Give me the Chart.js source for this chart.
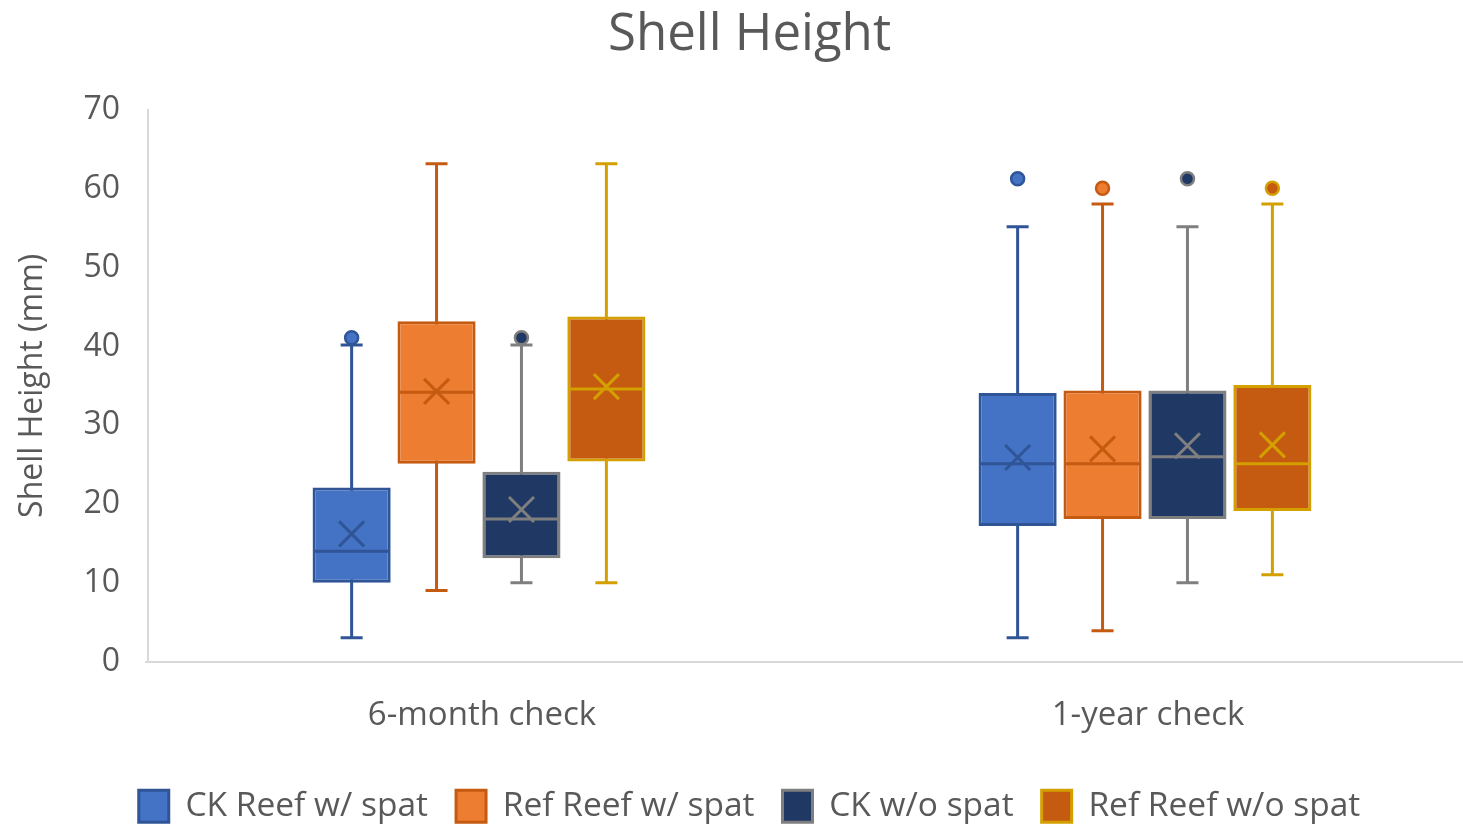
<!DOCTYPE html>
<html>
<head>
<meta charset="utf-8">
<script src="https://cdn.jsdelivr.net/npm/chart.js@4.4.0/dist/chart.umd.min.js"></script>
<style>
html, body { margin: 0; padding: 0; background: #fff; }
#wrap { width: 1463px; height: 826px; }
</style>
</head>
<body>
<div id="wrap"><canvas id="myChart"></canvas></div>
<script>
// categories and series
const categories = ["6-month check", "1-year check"];
const seriesNames = ["CK Reef w/ spat", "Ref Reef w/ spat", "CK w/o spat", "Ref Reef w/o spat"];

// box plot stats, one row per series, [6-month, 1-year]
const whiskerMin = [[3, 3], [9, 3.9], [10, 10], [10, 11]];
const quartile1 = [[10, 17.2], [25.1, 18.1], [13.1, 18.1], [25.4, 19.1]];
const medians = [[14, 25.1], [34.2, 25.1], [18.1, 26], [34.6, 25.1]];
const quartile3 = [[22.1, 34.1], [43.2, 34.4], [24.1, 34.4], [43.8, 35.1]];
const whiskerMax = [[40.2, 55.2], [63.2, 58.1], [40.2, 55.2], [63.2, 58.1]];
const means = [[16.2, 25.9], [34.3, 27], [19.3, 27.4], [34.9, 27.5]];
const outliers = [[[41.1], [61.3]], [[], [60.1]], [[41.1], [61.3]], [[], [60.1]]];

const yTicks = [0, 10, 20, 30, 40, 50, 60, 70];

// colours
const fills = ["#4472C4", "#ED7D31", "#203864", "#C55A11"];
const edges = ["#2F5597", "#C55A11", "#7F7F7F", "#D4A000"];

const textColor = "#595959";
const fontName = "'Open Sans', 'Noto Sans', sans-serif";

let datasets = [];
for (let i = 0; i < seriesNames.length; i++) {
    datasets.push({
        label: seriesNames[i],
        data: quartile1[i].map((q, j) => [q, quartile3[i][j]]),
        backgroundColor: fills[i],
        borderColor: edges[i],
        borderWidth: 3,
        borderSkipped: false,
        categoryPercentage: 0.51,
        barPercentage: 0.92
    });
}

// whiskers go behind the boxes, median / mean / outliers on top
const whiskerPlugin = {
    id: "whiskers",
    afterLayout(chart) {
        // excel's plot area runs a bit past the right edge of the picture
        const s = chart.scales.x;
        s.left -= 2;
        s.right += 15;
        s.width += 17;
        s.configure();
    },
    beforeDatasetsDraw(chart) {
        const ctx = chart.ctx;
        const y = chart.scales.y;
        ctx.save();
        chart.data.datasets.forEach((ds, i) => {
            const meta = chart.getDatasetMeta(i);
            if (meta.hidden) return;
            meta.data.forEach((bar, j) => {
                const x = bar.x;
                const cap = 11;
                let lo = y.getPixelForValue(whiskerMin[i][j]);
                let hi = y.getPixelForValue(whiskerMax[i][j]);
                ctx.strokeStyle = edges[i];
                ctx.lineWidth = 3;
                ctx.beginPath();
                ctx.moveTo(x, lo);
                ctx.lineTo(x, hi);
                ctx.moveTo(x - cap, lo);
                ctx.lineTo(x + cap, lo);
                ctx.moveTo(x - cap, hi);
                ctx.lineTo(x + cap, hi);
                ctx.stroke();
            });
        });
        ctx.restore();
    },
    afterDatasetsDraw(chart) {
        const ctx = chart.ctx;
        const y = chart.scales.y;
        ctx.save();
        chart.data.datasets.forEach((ds, i) => {
            const meta = chart.getDatasetMeta(i);
            if (meta.hidden) return;
            meta.data.forEach((bar, j) => {
                const x = bar.x;
                const half = bar.width / 2 - 1.5;
                ctx.strokeStyle = edges[i];
                ctx.lineWidth = 3;
                // median
                let my = y.getPixelForValue(medians[i][j]);
                ctx.beginPath();
                ctx.moveTo(x - half, my);
                ctx.lineTo(x + half, my);
                ctx.stroke();
                // mean marker
                let mx = y.getPixelForValue(means[i][j]);
                let s = 12.5;
                ctx.beginPath();
                ctx.moveTo(x - s, mx - s);
                ctx.lineTo(x + s, mx + s);
                ctx.moveTo(x + s, mx - s);
                ctx.lineTo(x - s, mx + s);
                ctx.stroke();
                // outliers
                outliers[i][j].forEach(v => {
                    ctx.beginPath();
                    ctx.arc(x, y.getPixelForValue(v), 6.5, 0, Math.PI * 2);
                    ctx.fillStyle = fills[i];
                    ctx.fill();
                    ctx.lineWidth = 2.5;
                    ctx.stroke();
                });
            });
        });
        ctx.restore();
    }
};

const ctx = document.getElementById("myChart").getContext("2d");

const chart = new Chart(ctx, {
    type: "bar",
    data: {
        labels: categories,
        datasets: datasets
    },
    options: {
        responsive: true,
        maintainAspectRatio: false,
        animation: false,
        layout: { padding: { left: 36, right: 0, top: 5, bottom: -7 } },
        plugins: {
            title: {
                display: true,
                text: "Shell Height",
                color: textColor,
                font: { family: fontName, size: 51, weight: "normal" },
                padding: { top: 0, bottom: 44 }
            },
            legend: {
                position: "bottom",
                labels: {
                    color: textColor,
                    font: { family: fontName, size: 33.5 },
                    boxWidth: 30,
                    boxHeight: 32,
                    padding: 28
                }
            },
            tooltip: { enabled: false }
        },
        scales: {
            x: {
                grid: { display: false },
                border: { display: true, color: "#D9D9D9", width: 2 },
                ticks: {
                    color: textColor,
                    font: { family: fontName, size: 33 },
                    padding: 26,
                    labelOffset: 3
                },
                afterFit: s => { s.height = 100; }
            },
            y: {
                min: 0,
                max: 70,
                grid: { display: false },
                border: { display: true, color: "#D9D9D9", width: 2 },
                afterBuildTicks: s => { s.ticks = yTicks.map(v => ({ value: v })); },
                ticks: {
                    color: textColor,
                    font: { family: fontName, size: 32 },
                    padding: 20
                },
                title: {
                    display: true,
                    text: "Shell Height (mm)",
                    color: textColor,
                    font: { family: fontName, size: 32 },
                    padding: { top: -22, bottom: 10 }
                },
                afterFit: s => { s.width = 112; }
            }
        }
    },
    plugins: [whiskerPlugin]
});
</script>
</body>
</html>
